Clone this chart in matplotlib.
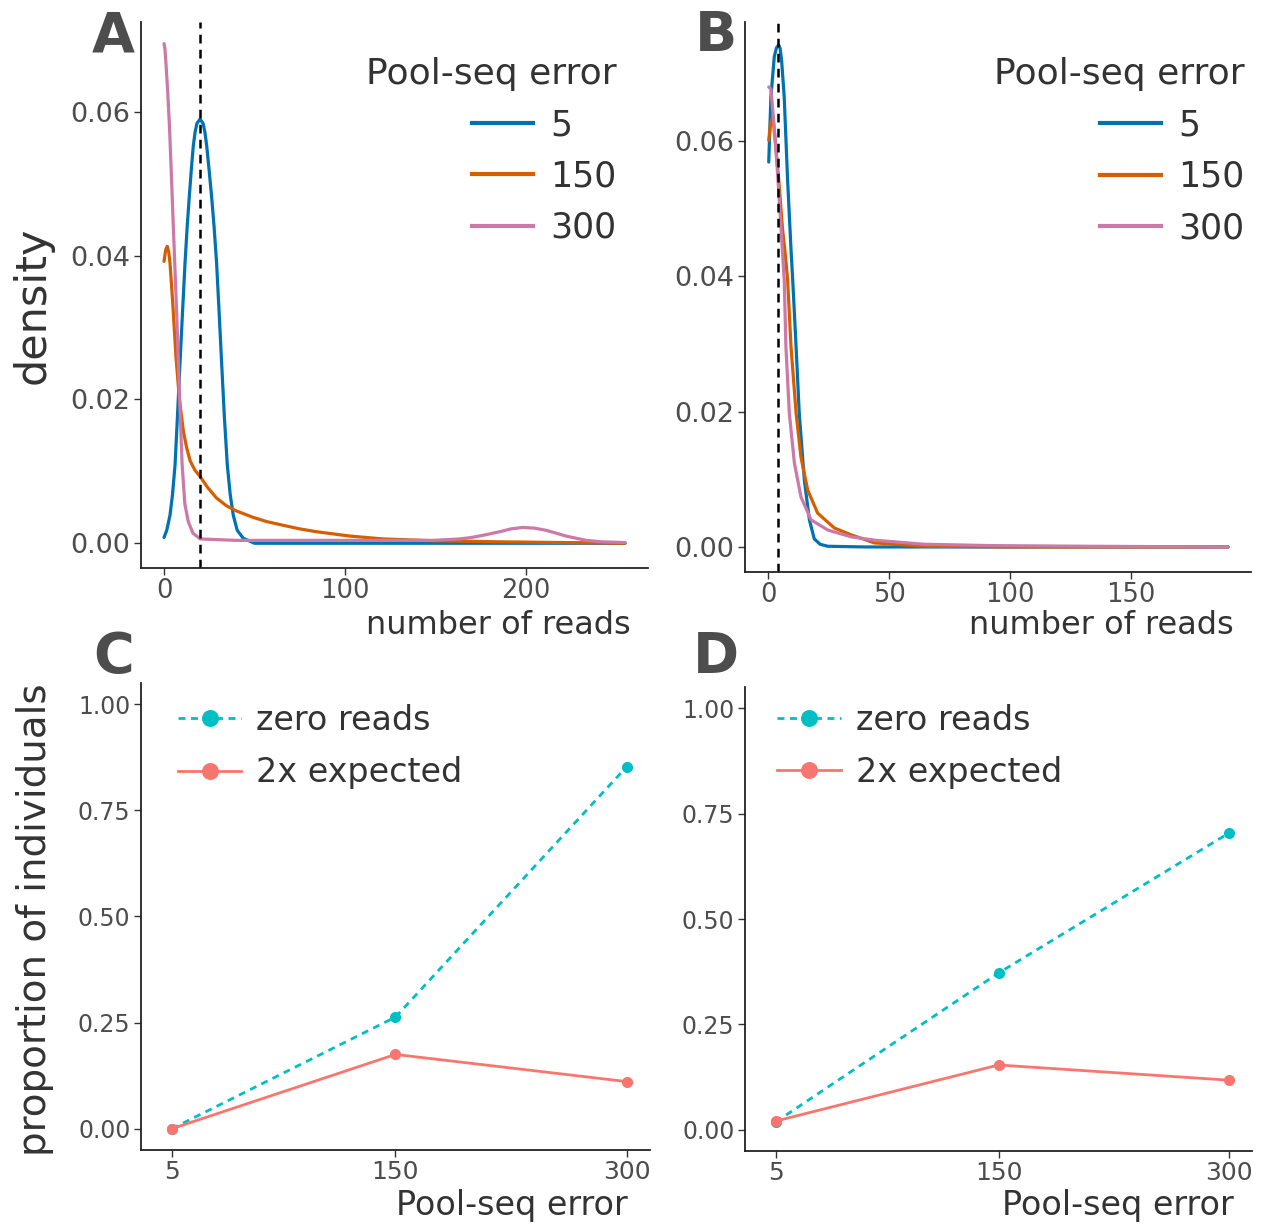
import matplotlib
matplotlib.use("Agg")
import matplotlib.pyplot as plt
from matplotlib.lines import Line2D

# ---- data ----
# panel A: density of reads per individual, three Pool-seq error levels
a_blue_x = [0, 1.5, 3.3, 4.7, 6.1, 7.4, 8.8, 10.2, 11.6, 12.8, 14.0, 15.1, 16.2, 17.2, 18.2, 19.9, 21.6, 22.6,
            23.6, 24.9, 26.3, 27.7, 29.1, 30.5, 31.9, 33.4, 35.0, 36.6, 38.3, 40.5, 43.8, 50, 255]
a_blue_y = [0.0008, 0.0018, 0.0039, 0.0068, 0.0109, 0.0175, 0.0249, 0.0320, 0.0389, 0.0440, 0.0483, 0.0520,
            0.0553, 0.0572, 0.0584, 0.0590, 0.0584, 0.0572, 0.0553, 0.0520, 0.0483, 0.0440, 0.0389, 0.0320,
            0.0249, 0.0175, 0.0109, 0.0068, 0.0039, 0.0018, 0.0007, 0.0, 0.0]
a_orange_x = [0, 0.9, 1.8, 2.6, 3.3, 4.8, 6.6, 8.5, 10.7, 12.5, 14.4, 17, 19.9, 24, 29, 34.6, 40, 49.3, 57,
              65.9, 75, 84.4, 102.8, 121.2, 148.8, 185.6, 220, 255]
a_orange_y = [0.0392, 0.0408, 0.0413, 0.0405, 0.0390, 0.0335, 0.0260, 0.0200, 0.0156, 0.0133, 0.0115, 0.0102,
              0.0093, 0.0078, 0.0063, 0.0052, 0.0045, 0.0036, 0.0030, 0.0025, 0.0020, 0.0016, 0.0010, 0.0006,
              0.00035, 0.0002, 0.0001, 0.0]
a_pink_x = [0, 0.5, 1, 2, 3, 4, 5, 6, 7, 8.5, 10, 11.5, 13.4, 16, 20, 40, 100, 148.8, 156, 163.5, 170,
            176.4, 185.6, 192, 198.5, 205, 211.4, 217, 222.4, 228, 233.5, 242, 255]
a_pink_y = [0.0695, 0.0688, 0.0670, 0.0630, 0.0580, 0.0517, 0.0450, 0.0385, 0.0320, 0.0210, 0.0110, 0.0055,
            0.0030, 0.0014, 0.0006, 0.0004, 0.0004, 0.0004, 0.0005, 0.0006, 0.0008, 0.0011, 0.0016, 0.0020,
            0.0022, 0.0021, 0.0018, 0.0014, 0.0010, 0.0007, 0.0004, 0.0002, 0.0001]

# panel B
b_blue_x = [0.3, 1.2, 2.6, 3.5, 4.4, 5.0, 5.6, 6.7, 8.1, 9.5, 10.2, 11.6, 12.9, 15, 17.1, 19.1, 21.5, 24.7,
            40, 190]
b_blue_y = [0.0569, 0.0665, 0.0725, 0.0738, 0.0742, 0.0737, 0.0720, 0.0665, 0.0542, 0.0440, 0.0395, 0.0296,
            0.0198, 0.0099, 0.0040, 0.0012, 0.0004, 0.0001, 0.0, 0.0]
b_orange_x = [0.3, 1.0, 1.7, 2.3, 3.0, 4.5, 6.0, 7.2, 8.1, 9.5, 11.6, 13.6, 16.4, 20.5, 27.4, 34.3, 43.9, 64.6,
              100, 190]
b_orange_y = [0.0601, 0.0625, 0.0633, 0.0625, 0.0600, 0.0540, 0.0470, 0.0430, 0.0395, 0.0296, 0.0198, 0.0133,
              0.0084, 0.0050, 0.0028, 0.0018, 0.0006, 0.0001, 0.0, 0.0]
b_pink_x = [0.3, 1.2, 2.6, 4.0, 5.4, 6.7, 7.4, 8.8, 10.9, 13.6, 17.8, 24.7, 34.3, 43.9, 64.6, 92, 133, 190]
b_pink_y = [0.0680, 0.0677, 0.0620, 0.0550, 0.0470, 0.0395, 0.0296, 0.0198, 0.0124, 0.0074, 0.0040, 0.0025,
            0.0015, 0.0010, 0.0004, 0.0002, 0.0001, 0.0]

a_expected = 20
b_expected = 4.3

# panels C and D
pool_err = [5, 150, 300]
c_zero = [0.0, 0.263, 0.853]
c_twice = [0.0, 0.175, 0.111]
d_zero = [0.019, 0.372, 0.704]
d_twice = [0.021, 0.154, 0.118]

err_labels = ["5", "150", "300"]

COL_DENS = ["#0072B2", "#D55E00", "#CC79A7"]
COL_ZERO = "#00BFC4"
COL_TWICE = "#F8766D"
TXT = "#333333"
TICK = "#4D4D4D"

plt.rcParams["font.family"] = "DejaVu Sans"

fig = plt.figure(figsize=(12.61, 12.24), dpi=100)
axA = fig.add_axes([0.1118, 0.5359, 0.4021, 0.4461])
axB = fig.add_axes([0.5908, 0.5327, 0.4013, 0.4493])
axC = fig.add_axes([0.1118, 0.0605, 0.4036, 0.3815])
axD = fig.add_axes([0.5908, 0.0596, 0.4021, 0.3791])


def style(ax, tsize_x, tsize_y):
    for s in ["top", "right"]:
        ax.spines[s].set_visible(False)
    for s in ["left", "bottom"]:
        ax.spines[s].set_color("#222222")
        ax.spines[s].set_linewidth(1.3)
    ax.tick_params(colors="#333333", length=5, width=1.0, pad=2.5)
    ax.tick_params(axis="x", labelsize=tsize_x, labelcolor=TICK)
    ax.tick_params(axis="y", labelsize=tsize_y, labelcolor=TICK)


# density panels
for ax, curves, vline, xmax, xticks, ylim, leg_x in [
    (axA, [(a_blue_x, a_blue_y), (a_orange_x, a_orange_y), (a_pink_x, a_pink_y)], a_expected, 255,
     [0, 100, 200], (-0.00345, 0.0725), 0.972),
    (axB, [(b_blue_x, b_blue_y), (b_orange_x, b_orange_y), (b_pink_x, b_pink_y)], b_expected, 190,
     [0, 50, 100, 150], (-0.0037, 0.0776), 1.022),
]:
    for (xs, ys), col in zip(curves, COL_DENS):
        ax.plot(xs, ys, color=col, lw=2.3, solid_capstyle="round", solid_joinstyle="round")
    ax.axvline(vline, color="black", ls=(0, (3.5, 2.5)), lw=1.8)
    ax.set_xlim(-0.05 * xmax, 1.05 * xmax)
    ax.set_ylim(*ylim)
    ax.set_xticks(xticks)
    ax.set_yticks([0, 0.02, 0.04, 0.06])
    ax.set_yticklabels(["0.00", "0.02", "0.04", "0.06"])
    style(ax, 18.5, 19.5)
    handles = [Line2D([0], [0], color=c, lw=3) for c in COL_DENS]
    leg = ax.legend(handles, err_labels, title="Pool-seq error", loc="upper right",
                    bbox_to_anchor=(leg_x, 0.968), frameon=False, fontsize=25, title_fontsize=26,
                    handlelength=1.75, handletextpad=0.5, labelspacing=0.5, alignment="right",
                    borderpad=0.0)
    leg.get_title().set_color(TXT)
    for t in leg.get_texts():
        t.set_color(TXT)

# proportion panels
for ax, zero, twice, leg_x, leg_y in [(axC, c_zero, c_twice, 0.04, 0.991), (axD, d_zero, d_twice, 0.031, 1.0)]:
    ax.plot(pool_err, zero, color=COL_ZERO, ls=(0, (2.5, 2)), lw=2.0, marker="o", ms=7,
            label="zero reads")
    ax.plot(pool_err, twice, color=COL_TWICE, lw=2.0, marker="o", ms=7, label="2x expected")
    ax.set_xlim(-15, 315)
    ax.set_ylim(-0.05, 1.05)
    ax.set_xticks(pool_err)
    ax.set_xticklabels(err_labels)
    ax.set_yticks([0, 0.25, 0.5, 0.75, 1.0])
    ax.set_yticklabels(["0.00", "0.25", "0.50", "0.75", "1.00"])
    style(ax, 18, 17)
    leg = ax.legend(loc="upper left", bbox_to_anchor=(leg_x, leg_y), frameon=False, fontsize=24,
                    handlelength=1.9, handletextpad=0.45, labelspacing=0.58, markerscale=1.6,
                    borderpad=0.0)
    for t in leg.get_texts():
        t.set_color(TXT)

# axis titles
fig.text(0.5, 1 - 625 / 1224, "number of reads", ha="right", va="center", fontsize=23, color=TXT)
fig.text(0.978, 1 - 625 / 1224, "number of reads", ha="right", va="center", fontsize=23, color=TXT)
fig.text(0.498, 1 - 1205 / 1224, "Pool-seq error", ha="right", va="center", fontsize=24, color=TXT)
fig.text(0.978, 1 - 1205 / 1224, "Pool-seq error", ha="right", va="center", fontsize=24, color=TXT)
fig.text(33 / 1261, 1 - 305 / 1224, "density", rotation=90, ha="center", va="center", fontsize=31, color=TXT)
fig.text(35 / 1261, 1 - 920 / 1224, "proportion of individuals", rotation=90, ha="center", va="center",
         fontsize=28, color=TXT)

# panel letters
for lab, x, y in [("A", 113, 36), ("B", 716, 36), ("C", 114, 657), ("D", 716, 657)]:
    fig.text(x / 1261, 1 - y / 1224, lab, ha="center", va="center", fontsize=40, fontweight="bold",
             color="#4D4D4D")

fig.savefig("out.png", dpi=100)
